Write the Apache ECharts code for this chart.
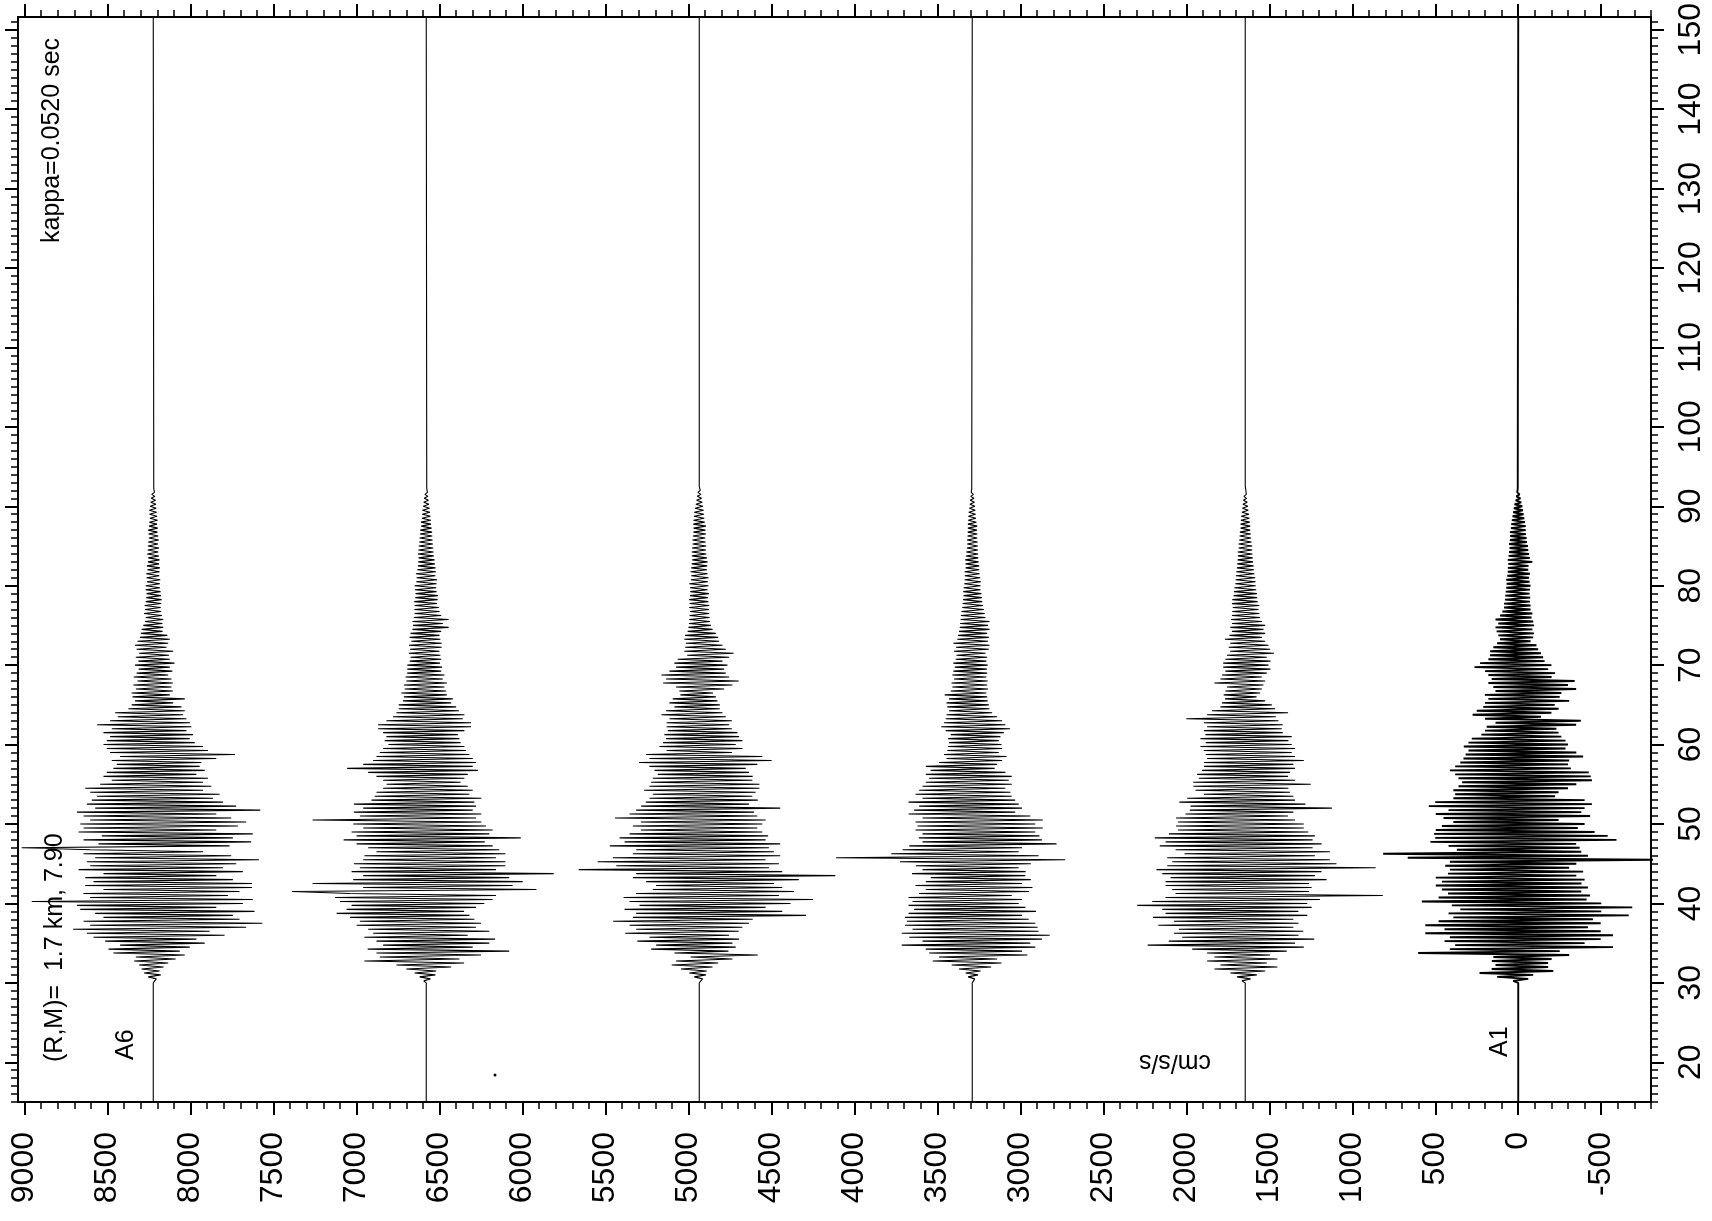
<!DOCTYPE html>
<html>
<head>
<meta charset="utf-8">
<title>Simulated accelerograms A1-A6</title>
<script src="https://cdn.jsdelivr.net/npm/echarts@6/dist/echarts.min.js"></script>
<style>
  html, body { margin: 0; padding: 0; background: #fff; }
  #chart { width: 1712px; height: 1221px; }
</style>
</head>
<body>
<div id="chart"></div>
<script>
// station names and their offsets on the amplitude axis (cm/s/s)
const traceNames = ['A1', 'A2', 'A3', 'A4', 'A5', 'A6'];
const traceOffsets = [0, 1645, 3290, 4935, 6580, 8225];

// samples start at t0 (sec) with step dt; traces run from tStart to tEnd
const t0 = 30;
const dt = 0.25;
const tStart = 15;
const tEnd = 151.6;

// acceleration samples (cm/s/s, + = to the left)
const accA1 = [
  0, 30, -60, 127, -90, 233, -211, 160, -180, 137,
  -180, 159, -201, 150, -307, 603, -250, 412, -571, 380,
  -400, 444, -497, 412, -571, 560, -497, 444, -420, 560,
  -497, 480, -450, 391, -666, 420, -500, 349, -687, 400,
  -500, 581, -412, 480, -433, 423, -380, 460, -420, 497,
  -381, 460, -400, 497, -350, 423, -391, 412, -307, 440,
  -350, 412, -860, 666, -420, 814, -380, 370, -370, 420,
  -349, 529, -592, 500, -539, 507, -460, 497, -359, 460,
  -400, 391, -243, 450, -433, 497, -380, 420, -400, 539,
  -444, 500, -400, 391, -222, 380, -243, 391, -300, 360,
  -350, 338, -444, 360, -437, 380, -425, 412, -317, 380,
  -300, 349, -307, 330, -391, 317, -350, 300, -285, 328,
  -300, 300, -285, 280, -260, 222, -243, 200, -230, 190,
  -349, 137, -377, 200, -137, 275, -200, 250, -243, 211,
  -220, 200, -307, 180, -250, 201, -260, 137, -349, 150,
  -300, 180, -340, 160, -201, 180, -222, 200, -180, 264,
  -200, 230, -159, 180, -150, 170, -137, 169, -120, 150,
  -110, 127, -74, 110, -90, 120, -95, 130, -85, 137,
  -95, 120, -90, 137, -80, 110, -85, 95, -74, 85,
  -74, 85, -70, 80, -72, 78, -68, 75, -70, 72,
  -74, 70, -68, 72, -65, 66, -70, 63, -60, 62,
  -62, 60, -85, 63, -70, 58, -65, 55, -60, 52,
  -58, 55, -52, 50, -50, 48, -46, 50, -45, 44,
  -45, 42, -40, 38, -36, 34, -32, 30, -28, 26,
  -24, 22, -18, 15, -13, 11, -8, 6, -4, 3,
  0
];
const accA2 = [
  0, 20, -32, 50, -70, 90, -120, 186, -194, 150,
  -130, 230, -194, 186, -150, 230, -250, 320, -353, 588,
  -300, 461, -416, 380, -321, 430, -350, 400, -290, 524,
  -321, 430, -290, 556, -374, 480, -320, 500, -400, 651,
  -374, 560, -450, 480, -829, 420, -385, 440, -400, 480,
  -385, 480, -490, 450, -420, 500, -460, 535, -786, 470,
  -550, 440, -510, 470, -420, 366, -510, 420, -406, 515,
  -460, 480, -406, 545, -420, 460, -380, 406, -353, 417,
  -353, 406, -300, 417, -258, 360, -290, 334, -522, 330,
  -363, 397, -300, 350, -290, 249, -270, 300, -260, 313,
  -395, 313, -300, 280, -258, 290, -270, 260, -300, 249,
  -290, 249, -353, 230, -300, 238, -280, 250, -300, 270,
  -280, 238, -260, 270, -280, 240, -226, 249, -220, 230,
  -226, 249, -200, 355, -184, 230, -258, 200, -180, 150,
  -160, 140, -120, 122, -68, 130, -90, 120, -100, 110,
  -110, 186, -120, 150, -100, 140, -130, 120, -152, 133,
  -140, 133, -152, 120, -130, 110, -173, 91, -150, 100,
  -140, 91, -120, 122, -100, 95, -120, 80, -110, 90,
  -120, 80, -100, 85, -90, 80, -85, 78, -80, 75,
  -85, 80, -75, 78, -72, 70, -70, 68, -66, 65,
  -63, 60, -62, 58, -60, 56, -55, 54, -52, 50,
  -50, 48, -47, 46, -45, 44, -43, 45, -42, 40,
  -42, 40, -38, 36, -35, 34, -33, 32, -30, 28,
  -30, 28, -27, 26, -25, 24, -22, 20, -18, 17,
  -16, 14, -12, 11, -9, 8, -6, 5, -4, 3,
  0
];
const accA3 = [
  0, 10, -15, 25, -35, 40, -50, 80, -114, 124,
  -176, 238, -150, 200, -332, 260, -300, 280, -380, 425,
  -350, 300, -420, 380, -467, 425, -400, 360, -394, 405,
  -380, 394, -340, 405, -300, 384, -384, 350, -320, 384,
  -280, 360, -300, 384, -238, 320, -342, 280, -363, 342,
  -300, 280, -353, 250, -320, 363, -322, 300, -280, 340,
  -353, 436, -560, 820, -400, 488, -280, 420, -300, 380,
  -508, 300, -420, 322, -405, 300, -380, 342, -425, 330,
  -380, 342, -425, 300, -350, 384, -259, 350, -300, 320,
  -280, 384, -259, 300, -238, 342, -230, 320, -200, 300,
  -238, 280, -220, 260, -238, 280, -200, 250, -135, 280,
  -150, 200, -180, 155, -207, 170, -160, 150, -180, 145,
  -176, 140, -160, 145, -170, 130, -190, 160, -228, 187,
  -200, 170, -180, 160, -150, 155, -120, 140, -104, 150,
  -100, 155, -93, 140, -90, 166, -85, 130, -95, 120,
  -90, 125, -93, 110, -85, 120, -90, 114, -88, 105,
  -93, 114, -85, 100, -90, 95, -80, 110, -100, 98,
  -104, 114, -95, 90, -100, 85, -90, 80, -104, 75,
  -95, 73, -104, 70, -80, 68, -75, 65, -70, 60,
  -65, 58, -60, 55, -58, 52, -55, 54, -50, 52,
  -50, 48, -52, 46, -48, 45, -44, 46, -42, 40,
  -42, 40, -38, 42, -36, 38, -35, 36, -34, 32,
  -33, 30, -32, 31, -30, 28, -30, 27, -28, 26,
  -30, 26, -25, 24, -22, 23, -20, 21, -18, 17,
  -16, 14, -13, 12, -10, 9, -7, 6, -4, 3,
  0
];
const accA4 = [
  0, 12, -20, 30, -40, 60, -45, 110, -80, 166,
  -114, 140, -200, 52, -353, 150, -176, 290, -220, 260,
  -200, 373, -240, 300, -180, 446, -238, 380, -260, 420,
  -300, 519, -322, 400, -643, 380, -500, 450, -400, 360,
  -550, 420, -685, 456, -480, 380, -571, 280, -500, 260,
  -450, 320, -600, 400, -820, 380, -500, 726, -420, 500,
  -480, 612, -400, 520, -488, 400, -450, 380, -420, 539,
  -488, 450, -400, 480, -415, 420, -380, 352, -350, 400,
  -380, 352, -400, 508, -350, 420, -330, 380, -488, 350,
  -300, 322, -353, 300, -320, 280, -340, 332, -363, 300,
  -363, 290, -320, 280, -322, 250, -300, 270, -280, 300,
  -350, 363, -436, 300, -380, 320, -197, 197, -260, 240,
  -220, 218, -260, 200, -240, 210, -230, 190, -197, 197,
  -180, 197, -197, 180, -160, 228, -140, 200, -124, 150,
  -124, 180, -110, 160, -100, 114, -83, 120, -150, 140,
  -200, 218, -238, 200, -180, 228, -160, 180, -150, 140,
  -170, 150, -140, 130, -180, 73, -207, 90, -160, 85,
  -140, 80, -120, 90, -114, 85, -100, 70, -80, 65,
  -70, 62, -65, 60, -62, 58, -60, 55, -58, 60,
  -60, 58, -55, 60, -52, 56, -58, 54, -50, 55,
  -55, 60, -52, 50, -56, 48, -50, 52, -46, 48,
  -48, 45, -50, 42, -46, 44, -42, 45, -40, 43,
  -42, 40, -38, 41, -36, 38, -40, 35, -37, 34,
  -40, 36, -33, 35, -30, 32, -28, 30, -26, 25,
  -22, 20, -18, 16, -14, 12, -10, 8, -6, 4,
  0
];
const accA5 = [
  0, 15, -25, 40, -55, 70, -60, 120, -150, 180,
  -228, 373, -200, 280, -330, 300, -500, 353, -280, 260,
  -380, 300, -415, 373, -250, 320, -380, 350, -300, 420,
  -330, 400, -290, 460, -260, 540, -228, 480, -300, 450,
  -350, 520, -400, 550, -420, 460, 809, -664, 380, -520,
  685, -581, 440, -500, 380, -768, 450, -420, 400, -477,
  436, -477, 380, -420, 373, -477, 300, -440, 350, -400,
  420, -353, 498, -570, 420, -380, 450, -400, 380, -360,
  440, -332, 685, -300, 400, -332, 436, -280, 380, -300,
  436, -290, 330, -332, 311, -260, 300, -280, 260, -250,
  239, -207, 260, -230, 300, -250, 350, -311, 477, -280,
  380, -300, 320, -280, 300, -260, 280, -240, 260, -230,
  228, -207, 250, -200, 240, -190, 260, -230, 290, -270,
  290, -270, 240, -220, 200, -230, 180, -197, 166, -180,
  166, -150, 140, -160, 135, -124, 150, -120, 130, -110,
  135, -124, 120, -100, 125, -110, 115, -90, 114, -95,
  114, -83, 100, -90, 95, -85, 105, -80, 98, -93,
  104, -93, 90, -85, 100, -80, 95, -90, 83, -135,
  80, -100, 83, -135, 75, -90, 70, -80, 72, -75,
  70, -65, 72, -68, 66, -70, 64, -62, 68, -60,
  70, -62, 60, -65, 58, -55, 62, -58, 54, -56,
  50, -52, 48, -50, 46, -45, 50, -44, 47, -42,
  45, -40, 42, -38, 40, -36, 38, -35, 36, -32,
  30, -28, 32, -27, 26, -25, 24, -22, 23, -20,
  18, -16, 15, -13, 12, -10, 8, -7, 5, -3,
  0
];
const accA6 = [
  0, 10, -18, 30, -45, 55, -38, 70, -62, 85,
  -90, 115, -135, 105, -190, 240, -160, 270, -220, 200,
  -310, 290, -260, 360, -430, 400, -340, 483, -560, 380,
  -657, 420, -520, 300, -480, 350, -610, 440, -380, 460,
  -540, 732, -600, 380, -450, 421, -520, 300, -595, 410,
  -595, 360, -480, 410, -380, 300, -540, 450, -420, 380,
  -500, 400, -637, 350, -470, 420, -300, 380, 793, -460,
  330, -590, 420, -480, 310, -600, 450, -380, 420, -510,
  440, -560, 380, -470, 420, -380, 460, -645, 350, -500,
  400, -420, 370, -360, 340, -400, 380, -300, 410, -350,
  320, -300, 250, -330, 300, -260, 280, -310, 240, -280,
  220, -290, 250, -380, 200, -492, 260, -330, 280, -300,
  300, -250, 280, -220, 260, -240, 300, -200, 250, -230,
  338, -222, 260, -200, 214, -180, 230, -190, 150, -170,
  130, -120, 110, -190, 125, -100, 131, -118, 105, -110,
  120, -118, 95, -110, 118, -90, 100, -115, 88, -100,
  110, -128, 90, -100, 105, -95, 85, -120, 100, -80,
  110, -90, 95, -100, 80, -85, 75, -56, 70, -60,
  60, -55, 50, -60, 45, -52, 55, -48, 50, -45,
  52, -48, 45, -50, 42, -46, 40, -44, 46, -40,
  45, -40, 38, -42, 40, -36, 42, -38, 35, -40,
  38, -35, 32, -38, 30, -34, 36, -30, 33, -35,
  32, -28, 30, -33, 26, -30, 28, -25, 30, -27,
  25, -22, 24, -26, 20, -23, 22, -20, 24, -18,
  18, -16, 15, -14, 12, -10, 9, -7, 5, -3,
  0
];

// tick labels
const xTickLabels = [9000, 8500, 8000, 7500, 7000, 6500, 6000, 5500, 5000, 4500,
  4000, 3500, 3000, 2500, 2000, 1500, 1000, 500, 0, -500];
const yTickLabels = [20, 30, 40, 50, 60, 70, 80, 90, 100, 110, 120, 130, 140, 150];

const xMin = -800, xMax = 9040;
const yMin = tStart, yMax = tEnd;

const xMinorTicks = [];
for (let v = -800; v <= 9000; v += 100) xMinorTicks.push(v);
const yMinorTicks = [];
for (let v = 15; v <= 151; v += 1) yMinorTicks.push(v);

const FONT = 'Liberation Sans';
const black = '#000';
const plain = (v) => String(v);

function xAxisCfg(position, ticks, tickLen, withLabels) {
  return {
    type: 'value',
    position: position,
    inverse: true,
    min: xMin,
    max: xMax,
    axisLine: { show: true, onZero: false, lineStyle: { color: black, width: 2 } },
    axisTick: {
      customValues: ticks,
      length: tickLen,
      lineStyle: { color: black, width: tickLen > 10 ? 2 : 1.5 }
    },
    axisLabel: withLabels ? {
      customValues: xTickLabels,
      formatter: plain,
      rotate: 90,
      margin: 30,
      color: black,
      fontSize: 32,
      fontFamily: FONT
    } : { show: false },
    splitLine: { show: false }
  };
}

function yAxisCfg(position, ticks, tickLen, withLabels) {
  return {
    type: 'value',
    position: position,
    min: yMin,
    max: yMax,
    axisLine: { show: true, onZero: false, lineStyle: { color: black, width: 2 } },
    axisTick: {
      customValues: ticks,
      length: tickLen,
      lineStyle: { color: black, width: tickLen > 10 ? 2 : 1.5 }
    },
    axisLabel: withLabels ? {
      customValues: yTickLabels,
      formatter: plain,
      rotate: 90,
      margin: 24,
      color: black,
      fontSize: 32,
      fontFamily: FONT
    } : { show: false },
    splitLine: { show: false }
  };
}

const traces = [accA1, accA2, accA3, accA4, accA5, accA6];

const series = traces.map((acc, k) => {
  const off = traceOffsets[k];
  const data = [[off, tStart]];
  acc.forEach((a, i) => {
    data.push([off + a, t0 + i * dt]);
  });
  data.push([off, tEnd]);
  return {
    name: traceNames[k],
    type: 'line',
    xAxisIndex: 0,
    yAxisIndex: 0,
    data: data,
    symbol: 'none',
    showSymbol: false,
    clip: true,
    silent: true,
    animation: false,
    // A1 is plotted heavier in the original
    lineStyle: { color: black, width: k === 0 ? 1.9 : 1.1 }
  };
});

const textStyle = (txt, size) => ({
  text: txt,
  fill: black,
  font: size + 'px "' + FONT + '"',
  textAlign: 'left',
  textVerticalAlign: 'middle',
  align: 'left',
  verticalAlign: 'middle'
});

const chart = echarts.init(document.getElementById('chart'), null, { renderer: 'canvas' });

const option = {
  backgroundColor: '#fff',
  animation: false,
  grid: { left: 18, right: 61, top: 12, bottom: 119, containLabel: false },
  xAxis: [
    xAxisCfg('bottom', xTickLabels, 13, true),
    xAxisCfg('bottom', xMinorTicks, 7, false),
    xAxisCfg('top', xTickLabels, 13, false),
    xAxisCfg('top', xMinorTicks, 7, false)
  ],
  yAxis: [
    yAxisCfg('right', yTickLabels, 13, true),
    yAxisCfg('right', yMinorTicks, 7, false),
    yAxisCfg('left', yTickLabels, 13, false),
    yAxisCfg('left', yMinorTicks, 7, false)
  ],
  graphic: [
    { type: 'text', x: 52, y: 243, rotation: Math.PI / 2, style: textStyle('kappa=0.0520 sec', 25) },
    { type: 'text', x: 55, y: 1062, rotation: Math.PI / 2, style: textStyle('(R,M)=  1.7 km, 7.90', 25) },
    { type: 'text', x: 126, y: 1060, rotation: Math.PI / 2, style: textStyle('A6', 25) },
    { type: 'text', x: 1500, y: 1057, rotation: Math.PI / 2, style: textStyle('A1', 25) },
    {
      type: 'text', x: 1175, y: 1062, rotation: Math.PI,
      style: Object.assign(textStyle('cm/s/s', 25), { textAlign: 'center', align: 'center' })
    },
    { type: 'circle', shape: { cx: 495, cy: 1075, r: 1.5 }, style: { fill: black } }
  ],
  series: series
};

chart.setOption(option);
</script>
</body>
</html>
